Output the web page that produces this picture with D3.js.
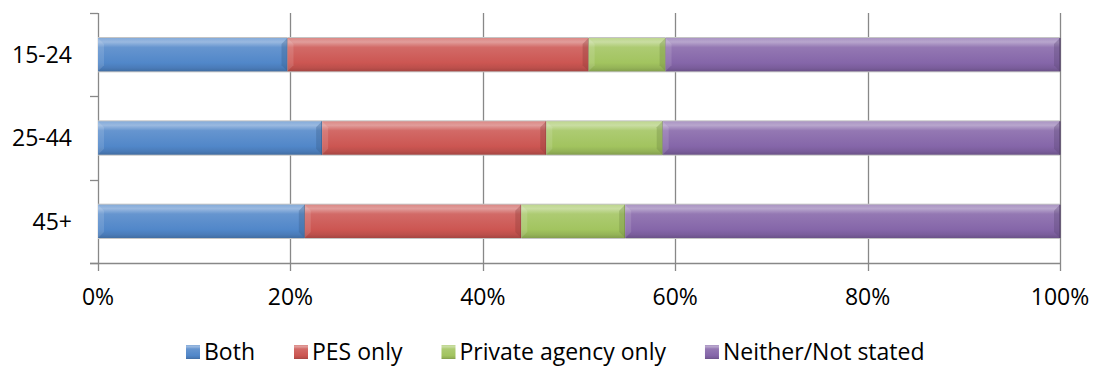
<!DOCTYPE html>
<html>
<head>
<meta charset="utf-8">
<script src="https://d3js.org/d3.v7.min.js"></script>
<style>
  body { margin: 0; background: #fff; }
  text { font-family: "Open Sans", sans-serif; fill: #000; }
</style>
</head>
<body>
<div id="chart"></div>
<script>
// Data ----------------------------------------------------------------------->

const age_groups = ['15-24', '25-44', '45+'];
const series_names = ['Both', 'PES only', 'Private agency only', 'Neither/Not stated'];
const both_vals     = [19.7, 23.3, 21.5];
const pes_vals      = [31.3, 23.3, 22.5];
const private_vals  = [8.0, 12.1, 10.8];
const neither_vals  = [41.0, 41.3, 45.2];
const x_ticks = [0, 20, 40, 60, 80, 100];

// Excel 2007 style palette
const series_colors = ['#5187c9', '#cc5652', '#a2c45f', '#8566a9'];

// Setup ---------------------------------------------------------------------->

const width = 1093, height = 368;
const svg = d3.select('#chart')
  .append('svg')
    .attr('width', width)
    .attr('height', height);

const x = d3.scaleLinear().domain([0, 100]).range([98, 1060]);
const y = d3.scaleBand()
  .domain(age_groups)
  .range([13, 263])
  .paddingInner(0.6)
  .paddingOuter(0.3);

const axis_col = '#888';
const font_size = 23;

// Build stacked rows
const rows = age_groups.map((g, i) => ({
  group: g,
  'Both': both_vals[i],
  'PES only': pes_vals[i],
  'Private agency only': private_vals[i],
  'Neither/Not stated': neither_vals[i]
}));
const stacked = d3.stack().keys(series_names)(rows);

// Gradients giving the bevelled look
const defs = svg.append('defs');
series_colors.forEach((c, i) => {
  const base = d3.color(c);
  const grad = defs.append('linearGradient')
    .attr('id', 'grad' + i)
    .attr('x1', 0).attr('y1', 0).attr('x2', 0).attr('y2', 1);
  const stops = [
    [0, d3.interpolateRgb(base, '#fff')(0.3)],
    [0.12, d3.interpolateRgb(base, '#fff')(0.42)],
    [0.28, d3.interpolateRgb(base, '#fff')(0.12)],
    [0.75, base],
    [0.9, base.darker(0.25)],
    [1, base.darker(0.6)]
  ];
  stops.forEach(s => grad.append('stop')
    .attr('offset', s[0]).attr('stop-color', s[1]));
});

// Gridlines and axes --------------------------------------------------------->

const grid = svg.append('g')
  .attr('stroke', axis_col)
  .attr('stroke-width', 1.3);

grid.selectAll('line.v')
  .data(x_ticks)
  .join('line')
    .attr('x1', d => Math.round(x(d)) + 0.5)
    .attr('x2', d => Math.round(x(d)) + 0.5)
    .attr('y1', 13)
    .attr('y2', 271);

// bottom axis
grid.append('line')
  .attr('x1', 90).attr('x2', x(100) + 0.5)
  .attr('y1', 263.5).attr('y2', 263.5);

// category ticks on left axis
grid.selectAll('line.t')
  .data(d3.range(age_groups.length + 1))
  .join('line')
    .attr('x1', 90).attr('x2', 98)
    .attr('y1', i => Math.round(13 + i * y.step()) + 0.5)
    .attr('y2', i => Math.round(13 + i * y.step()) + 0.5);

// tick labels
svg.append('g')
  .selectAll('text')
  .data(x_ticks)
  .join('text')
    .attr('x', d => x(d))
    .attr('y', 305)
    .attr('text-anchor', 'middle')
    .style('font-size', font_size + 'px')
    .text(d => d + '%');

svg.append('g')
  .selectAll('text')
  .data(age_groups)
  .join('text')
    .attr('x', 72)
    .attr('y', d => y(d) + y.bandwidth() / 2)
    .attr('dy', '0.36em')
    .attr('text-anchor', 'end')
    .style('font-size', font_size + 'px')
    .text(d => d);

// Bars ----------------------------------------------------------------------->

const bevel = 6;
stacked.forEach((layer, si) => {
  const base = d3.color(series_colors[si]);
  const g = svg.append('g');
  layer.forEach(d => {
    const x0 = x(d[0]), x1 = x(d[1]);
    const y0 = y(d.data.group), y1 = y0 + y.bandwidth();
    // faint shadow outline
    g.append('rect')
      .attr('x', x0).attr('y', y0 - 1)
      .attr('width', x1 - x0).attr('height', y1 - y0 + 2)
      .attr('fill', '#c4c4c4');
    g.append('rect')
      .attr('x', x0).attr('y', y0)
      .attr('width', x1 - x0).attr('height', y1 - y0)
      .attr('fill', 'url(#grad' + si + ')');
    // left bevel (light)
    g.append('polygon')
      .attr('points', [[x0, y0], [x0 + bevel, y0 + bevel], [x0 + bevel, y1 - bevel], [x0, y1]].join(' '))
      .attr('fill', '#fff').attr('opacity', 0.12);
    // right bevel (dark)
    g.append('polygon')
      .attr('points', [[x1, y0], [x1 - bevel, y0 + bevel], [x1 - bevel, y1 - bevel], [x1, y1]].join(' '))
      .attr('fill', base.darker(1)).attr('opacity', 0.35);
    // divider
    g.append('line')
      .attr('x1', x1).attr('x2', x1).attr('y1', y0).attr('y2', y1)
      .attr('stroke', base.darker(1.2)).attr('stroke-width', 1.2);
  });
});

// Legend --------------------------------------------------------------------->

const legend = svg.append('g');
const legend_font = 23;
let lx = 186;
const ly_base = 360, sq = 14, item_gap = 39;
series_names.forEach((s, i) => {
  legend.append('rect')
    .attr('x', lx).attr('y', ly_base - 15)
    .attr('width', sq).attr('height', sq)
    .attr('fill', 'url(#grad' + i + ')');
  const t = legend.append('text')
    .attr('x', lx + sq + 4)
    .attr('y', ly_base)
    .style('font-size', legend_font + 'px')
    .text(s);
  lx += sq + 4 + t.node().getComputedTextLength() + item_gap;
});
</script>
</body>
</html>
